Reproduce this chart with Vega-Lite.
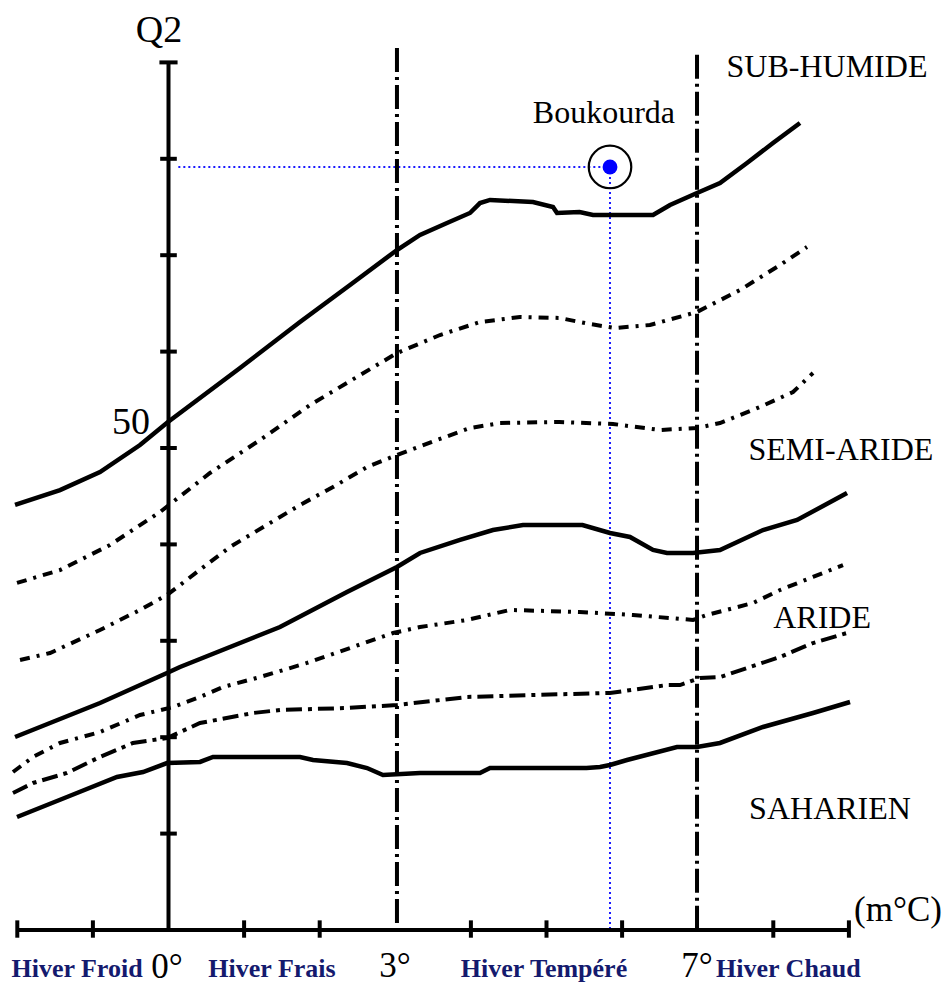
{
 "$schema": "https://vega.github.io/schema/vega-lite/v6.json",
 "width": 943, "height": 988,
 "autosize": {"type": "none"},
 "padding": 0,
 "background": "white",
 "config": {"view": {"stroke": null}},
 "datasets": {
  "curves": [
   {"series":"A","m":-2.03,"q":44.09},{"series":"A","m":-1.435,"q":45.64},{"series":"A","m":-0.906,"q":47.51},{"series":"A","m":-0.377,"q":50.31},{"series":"A","m":-0.007,"q":52.70},{"series":"A","m":0.946,"q":58.30},{"series":"A","m":1.739,"q":63.07},{"series":"A","m":2.401,"q":66.91},{"series":"A","m":3.022,"q":70.54},{"series":"A","m":3.327,"q":72.10},{"series":"A","m":3.684,"q":73.34},{"series":"A","m":3.988,"q":74.38},{"series":"A","m":4.12,"q":75.41},{"series":"A","m":4.253,"q":75.73},{"series":"A","m":4.821,"q":75.52},{"series":"A","m":5.086,"q":75.0},{"series":"A","m":5.139,"q":74.38},{"series":"A","m":5.437,"q":74.48},{"series":"A","m":5.615,"q":74.17},{"series":"A","m":6.409,"q":74.17},{"series":"A","m":6.634,"q":75.21},{"series":"A","m":6.991,"q":76.45},{"series":"A","m":7.295,"q":77.49},{"series":"A","m":7.652,"q":79.56},{"series":"A","m":7.996,"q":81.64},{"series":"A","m":8.353,"q":83.71},
   {"series":"B","m":-2.004,"q":36.0},{"series":"B","m":-1.435,"q":37.34},{"series":"B","m":-0.774,"q":39.94},{"series":"B","m":-0.112,"q":43.36},{"series":"B","m":0.549,"q":47.41},{"series":"B","m":1.21,"q":50.83},{"series":"B","m":1.872,"q":54.46},{"series":"B","m":3.022,"q":59.85},{"series":"B","m":3.591,"q":61.72},{"series":"B","m":4.12,"q":63.07},{"series":"B","m":4.649,"q":63.59},{"series":"B","m":5.172,"q":63.49},{"series":"B","m":5.575,"q":62.86},{"series":"B","m":5.906,"q":62.45},{"series":"B","m":6.369,"q":62.76},{"series":"B","m":6.991,"q":64.11},{"series":"B","m":7.56,"q":66.39},{"series":"B","m":8.089,"q":68.98},{"series":"B","m":8.446,"q":70.85},
   {"series":"C","m":-1.964,"q":28.01},{"series":"C","m":-1.567,"q":28.73},{"series":"C","m":-0.906,"q":31.12},{"series":"C","m":-0.377,"q":33.2},{"series":"C","m":-0.02,"q":34.75},{"series":"C","m":0.377,"q":37.14},{"series":"C","m":0.813,"q":39.73},{"series":"C","m":1.343,"q":42.22},{"series":"C","m":1.739,"q":44.09},{"series":"C","m":2.176,"q":45.95},{"series":"C","m":2.626,"q":48.03},{"series":"C","m":3.022,"q":49.27},{"series":"C","m":3.552,"q":50.83},{"series":"C","m":3.988,"q":52.07},{"series":"C","m":4.385,"q":52.59},{"series":"C","m":5.172,"q":52.7},{"series":"C","m":5.88,"q":52.49},{"series":"C","m":6.501,"q":51.87},{"series":"C","m":6.991,"q":52.07},{"series":"C","m":7.295,"q":52.59},{"series":"C","m":7.823,"q":54.25},{"series":"C","m":8.261,"q":55.81},{"series":"C","m":8.525,"q":57.78},
   {"series":"D","m":-2.03,"q":20.02},{"series":"D","m":-0.906,"q":23.55},{"series":"D","m":-0.02,"q":26.66},{"series":"D","m":0.152,"q":27.28},{"series":"D","m":1.475,"q":31.43},{"series":"D","m":2.361,"q":35.06},{"series":"D","m":3.022,"q":37.66},{"series":"D","m":3.327,"q":39.11},{"series":"D","m":3.856,"q":40.46},{"series":"D","m":4.292,"q":41.49},{"series":"D","m":4.689,"q":42.01},{"series":"D","m":5.476,"q":42.01},{"series":"D","m":5.84,"q":41.18},{"series":"D","m":6.104,"q":40.77},{"series":"D","m":6.409,"q":39.42},{"series":"D","m":6.594,"q":39.11},{"series":"D","m":6.938,"q":39.11},{"series":"D","m":7.295,"q":39.42},{"series":"D","m":7.864,"q":41.49},{"series":"D","m":8.315,"q":42.53},{"series":"D","m":8.975,"q":45.33},
   {"series":"E","m":-2.057,"q":16.39},{"series":"E","m":-1.792,"q":17.95},{"series":"E","m":-1.435,"q":19.4},{"series":"E","m":-0.906,"q":20.54},{"series":"E","m":-0.377,"q":22.3},{"series":"E","m":0.06,"q":23.13},{"series":"E","m":0.417,"q":24.17},{"series":"E","m":0.721,"q":25.21},{"series":"E","m":1.21,"q":26.24},{"series":"E","m":1.832,"q":27.7},{"series":"E","m":2.44,"q":29.36},{"series":"E","m":2.97,"q":30.81},{"series":"E","m":3.327,"q":31.43},{"series":"E","m":3.949,"q":32.16},{"series":"E","m":4.517,"q":33.2},{"series":"E","m":5.437,"q":32.99},{"series":"E","m":6.144,"q":32.68},{"series":"E","m":6.938,"q":32.16},{"series":"E","m":7.123,"q":32.68},{"series":"E","m":7.731,"q":33.92},{"series":"E","m":8.089,"q":35.27},{"series":"E","m":8.525,"q":36.62},{"series":"E","m":8.922,"q":37.86},
   {"series":"F","m":-2.057,"q":14.21},{"series":"F","m":-1.792,"q":15.25},{"series":"F","m":-1.343,"q":16.29},{"series":"F","m":-0.906,"q":17.95},{"series":"F","m":-0.47,"q":19.4},{"series":"F","m":-0.02,"q":19.92},{"series":"F","m":0.417,"q":21.47},{"series":"F","m":1.118,"q":22.51},{"series":"F","m":1.475,"q":22.82},{"series":"F","m":2.361,"q":23.03},{"series":"F","m":3.022,"q":23.34},{"series":"F","m":3.949,"q":24.17},{"series":"F","m":4.821,"q":24.38},{"series":"F","m":5.84,"q":24.59},{"series":"F","m":6.594,"q":25.41},{"series":"F","m":6.766,"q":25.41},{"series":"F","m":7.03,"q":26.14},{"series":"F","m":7.295,"q":26.24},{"series":"F","m":7.652,"q":27.18},{"series":"F","m":8.089,"q":28.32},{"series":"F","m":8.525,"q":29.77},{"series":"F","m":8.975,"q":30.81},
   {"series":"G","m":-2.004,"q":11.72},{"series":"G","m":-1.343,"q":13.8},{"series":"G","m":-0.681,"q":15.87},{"series":"G","m":-0.337,"q":16.39},{"series":"G","m":-0.02,"q":17.32},{"series":"G","m":0.417,"q":17.43},{"series":"G","m":0.589,"q":17.95},{"series":"G","m":1.739,"q":17.95},{"series":"G","m":1.911,"q":17.63},{"series":"G","m":2.361,"q":17.32},{"series":"G","m":2.626,"q":16.8},{"series":"G","m":2.837,"q":16.08},{"series":"G","m":3.327,"q":16.29},{"series":"G","m":4.12,"q":16.29},{"series":"G","m":4.253,"q":16.8},{"series":"G","m":5.529,"q":16.8},{"series":"G","m":5.708,"q":16.91},{"series":"G","m":5.84,"q":17.12},{"series":"G","m":6.065,"q":17.63},{"series":"G","m":6.726,"q":18.98},{"series":"G","m":6.991,"q":18.98},{"series":"G","m":7.295,"q":19.4},{"series":"G","m":7.864,"q":21.06},{"series":"G","m":8.525,"q":22.51},{"series":"G","m":9.015,"q":23.65}
  ],
  "segs": [
   {"kind":"axis","m":0,"m2":0,"q":0,"q2":90},
   {"kind":"axis","m":-2.0,"m2":9.0,"q":0,"q2":0},
   {"kind":"tick","m":-0.11,"m2":0.11,"q":10,"q2":10},
   {"kind":"tick","m":-0.11,"m2":0.11,"q":20,"q2":20},
   {"kind":"tick","m":-0.11,"m2":0.11,"q":30,"q2":30},
   {"kind":"tick","m":-0.11,"m2":0.11,"q":40,"q2":40},
   {"kind":"tick","m":-0.11,"m2":0.11,"q":50,"q2":50},
   {"kind":"tick","m":-0.11,"m2":0.11,"q":60,"q2":60},
   {"kind":"tick","m":-0.11,"m2":0.11,"q":70,"q2":70},
   {"kind":"tick","m":-0.11,"m2":0.11,"q":80,"q2":80},
   {"kind":"tick","m":-0.12,"m2":0.12,"q":90,"q2":90},
   {"kind":"tick","m":-2,"m2":-2,"q":1.0,"q2":-0.8},
   {"kind":"tick","m":-1,"m2":-1,"q":1.0,"q2":-0.8},
   {"kind":"tick","m":1,"m2":1,"q":1.0,"q2":-0.8},
   {"kind":"tick","m":2,"m2":2,"q":1.0,"q2":-0.8},
   {"kind":"tick","m":4,"m2":4,"q":1.0,"q2":-0.8},
   {"kind":"tick","m":5,"m2":5,"q":1.0,"q2":-0.8},
   {"kind":"tick","m":6,"m2":6,"q":1.0,"q2":-0.8},
   {"kind":"tick","m":8,"m2":8,"q":1.0,"q2":-0.8},
   {"kind":"tick","m":9,"m2":9,"q":1.0,"q2":-0.8},
   {"kind":"limit","m":3.022,"m2":3.022,"q":91.5,"q2":-0.5},
   {"kind":"limit","m":6.991,"m2":6.991,"q":90.8,"q2":-0.5},
   {"kind":"guide","m":0.13,"m2":5.84,"q":79.15,"q2":79.15},
   {"kind":"guide","m":5.84,"m2":5.84,"q":79.15,"q2":0.2}
  ],
  "site": [{"name":"Boukourda","m":5.84,"q":79.15}],
  "labels": [
   {"kind":"q2","text":"Q2","m":-0.126,"q":92.1},
   {"kind":"fifty","text":"50","m":-0.496,"q":51.5},
   {"kind":"zone","text":"Boukourda","m":5.76,"q":83.7},
   {"kind":"zone","text":"SUB-HUMIDE","m":8.71,"q":88.5},
   {"kind":"zone","text":"SEMI-ARIDE","m":8.895,"q":48.76},
   {"kind":"zone","text":"ARIDE","m":8.645,"q":31.33},
   {"kind":"zone","text":"SAHARIEN","m":8.75,"q":11.5},
   {"kind":"unit","text":"(m°C)","m":9.65,"q":0.93},
   {"kind":"hiver","text":"Hiver Froid","m":-1.21,"q":-4.88},
   {"kind":"hiver","text":"Hiver Frais","m":1.369,"q":-4.88},
   {"kind":"hiver","text":"Hiver Tempéré","m":4.967,"q":-4.88},
   {"kind":"hiver","text":"Hiver Chaud","m":8.2,"q":-4.88},
   {"kind":"deg","text":"0°","m":-0.02,"q":-5.0},
   {"kind":"deg","text":"3°","m":2.996,"q":-4.88},
   {"kind":"deg","text":"7°","m":6.99,"q":-4.88}
  ]
 },
 "encoding": {
  "x": {"field": "m", "type": "quantitative", "scale": {"domain": [-2.2288, 10.2447], "nice": false, "zero": false}, "axis": null},
  "y": {"field": "q", "type": "quantitative", "scale": {"domain": [-6.017, 96.473], "nice": false, "zero": false}, "axis": null}
 },
 "layer": [
  {"data": {"name": "segs"}, "transform": [{"filter": "datum.kind === 'guide'"}],
   "mark": {"type": "rule", "color": "#1a1aff", "strokeWidth": 2, "strokeDash": [2, 3]},
   "encoding": {"x2": {"field": "m2"}, "y2": {"field": "q2"}}},
  {"data": {"name": "segs"}, "transform": [{"filter": "datum.kind === 'limit'"}],
   "mark": {"type": "rule", "color": "black", "strokeWidth": 4, "strokeDash": [24, 5, 3, 5]},
   "encoding": {"x2": {"field": "m2"}, "y2": {"field": "q2"}}},
  {"data": {"name": "segs"}, "transform": [{"filter": "datum.kind === 'axis' || datum.kind === 'tick'"}],
   "mark": {"type": "rule", "color": "black", "strokeWidth": 4},
   "encoding": {"x2": {"field": "m2"}, "y2": {"field": "q2"}}},
  {"data": {"name": "curves"}, "transform": [{"filter": "datum.series === 'A' || datum.series === 'D' || datum.series === 'G'"}],
   "mark": {"type": "line", "color": "black", "strokeWidth": 4.5},
   "encoding": {"detail": {"field": "series"}}},
  {"data": {"name": "curves"}, "transform": [{"filter": "datum.series === 'B' || datum.series === 'C' || datum.series === 'E'"}],
   "mark": {"type": "line", "color": "black", "strokeWidth": 4, "strokeDash": [10, 7, 3, 7]},
   "encoding": {"detail": {"field": "series"}}},
  {"data": {"name": "curves"}, "transform": [{"filter": "datum.series === 'F'"}],
   "mark": {"type": "line", "color": "black", "strokeWidth": 4, "strokeDash": [16, 6, 4, 6]},
   "encoding": {"detail": {"field": "series"}}},
  {"data": {"name": "site"},
   "mark": {"type": "point", "shape": "circle", "filled": false, "stroke": "black", "strokeWidth": 2.2, "opacity": 1, "size": 1810}},
  {"data": {"name": "site"},
   "mark": {"type": "point", "shape": "circle", "filled": true, "color": "#0000ff", "opacity": 1, "size": 220}},
  {"data": {"name": "labels"}, "transform": [{"filter": "datum.kind === 'zone'"}],
   "mark": {"type": "text", "font": "Liberation Serif", "fontSize": 32, "color": "black", "align": "center", "baseline": "alphabetic"},
   "encoding": {"text": {"field": "text"}}},
  {"data": {"name": "labels"}, "transform": [{"filter": "datum.kind === 'q2' || datum.kind === 'fifty'"}],
   "mark": {"type": "text", "font": "Liberation Serif", "fontSize": 38, "color": "black", "align": "center", "baseline": "alphabetic"},
   "encoding": {"text": {"field": "text"}}},
  {"data": {"name": "labels"}, "transform": [{"filter": "datum.kind === 'unit'"}],
   "mark": {"type": "text", "font": "Liberation Serif", "fontSize": 35, "color": "black", "align": "center", "baseline": "alphabetic"},
   "encoding": {"text": {"field": "text"}}},
  {"data": {"name": "labels"}, "transform": [{"filter": "datum.kind === 'deg'"}],
   "mark": {"type": "text", "font": "Liberation Serif", "fontSize": 35, "color": "black", "align": "center", "baseline": "alphabetic"},
   "encoding": {"text": {"field": "text"}}},
  {"data": {"name": "labels"}, "transform": [{"filter": "datum.kind === 'hiver'"}],
   "mark": {"type": "text", "font": "Liberation Serif", "fontSize": 26, "fontWeight": "bold", "color": "#141a6e", "align": "center", "baseline": "alphabetic"},
   "encoding": {"text": {"field": "text"}}}
 ]
}
